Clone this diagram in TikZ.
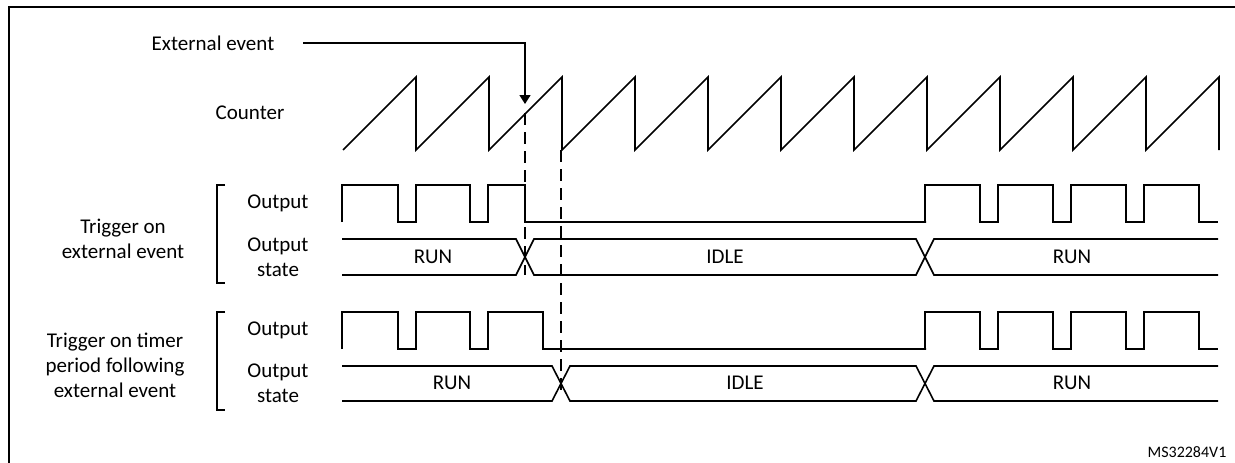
\documentclass[tikz,border=0pt]{standalone}
\usepackage{fontspec}
\setmainfont{Carlito}
\usetikzlibrary{arrows.meta}
\begin{document}
\begin{tikzpicture}[x=1pt,y=-1pt,
  wave/.style={line width=1.6pt,line join=miter},
  lbl/.style={font=\fontsize{21}{25}\selectfont,align=center,inner sep=0pt},
  dashln/.style={line width=1.4pt,dash pattern=on 12pt off 7pt}]
\useasboundingbox (0,0) rectangle (1235,463);
\draw[line width=2.4pt] (9,470) -- (9,7) -- (1240,7);
% labels
\node[lbl] (ext) at (213,43) {External event};
\node[lbl] (cnt) at (250,113) {Counter};
\node[lbl] (o1) at (278,203) {Output};
\node[lbl] (s1) at (278,257) {Output\\state};
\node[lbl] (o2) at (278,330) {Output};
\node[lbl] (s2) at (278,383) {Output\\state};
\node[lbl] (g1) at (123,239) {Trigger on\\external event};
\node[lbl] (g2) at (115,365) {Trigger on timer\\period following\\external event};
\node[font=\fontsize{16}{18}\selectfont,inner sep=0pt] (ms) at (1187,452) {MS32284V1};
\draw[line width=1.5pt] (225,185) -- (217,185) -- (217,283) -- (225,283);
\draw[line width=1.5pt] (225,312) -- (217,312) -- (217,410) -- (225,410);
% counter
\draw[wave] (343,150) foreach \k in {0,...,11} { -- ({416+73*\k},77) -- ({416+73*\k},150) };
% external event arrow
\coordinate (ea) at (525,43);
\coordinate (et) at (525,104);
\draw[line width=1.5pt,-{Triangle[length=9pt,width=11pt]}] (303,43) -- (ea) -- (et);
% dashed
\draw[dashln] (525,113) -- (525,275);
\draw[dashln] (561,150) -- (561,392);
% output 1
\draw[wave] (342,222) -- (342,185) -- (398,185) -- (398,222) -- (416,222) -- (416,185) -- (470,185) -- (470,222) -- (488,222) -- (488,185) -- (525,185) -- (525,222) -- (926,222)
  foreach \p in {998,1071,1144,1217} { -- ({\p-73},222) -- ({\p-73},185) -- ({\p-18},185) -- ({\p-18},222) } -- (1218,222);
% output 2
\draw[wave] (342,349) -- (342,312) -- (398,312) -- (398,349) -- (416,349) -- (416,312) -- (470,312) -- (470,349) -- (488,349) -- (488,312) -- (543,312) -- (543,349) -- (926,349)
  foreach \p in {998,1071,1144,1217} { -- ({\p-73},349) -- ({\p-73},312) -- ({\p-18},312) -- ({\p-18},349) } -- (1218,349);
% state 1
\draw[wave] (342,239) -- (516,239) -- (534,275) -- (916,275) -- (934,239) -- (1218,239);
\draw[wave] (342,275) -- (516,275) -- (534,239) -- (916,239) -- (934,275) -- (1218,275);
\node[lbl] (r1) at (433,257) {RUN};
\node[lbl] (i1) at (725,257) {IDLE};
\node[lbl] (r1b) at (1072,257) {RUN};
% state 2
\draw[wave] (342,366) -- (552,366) -- (570,401) -- (916,401) -- (934,366) -- (1218,366);
\draw[wave] (342,401) -- (552,401) -- (570,366) -- (916,366) -- (934,401) -- (1218,401);
\node[lbl] (r2) at (452,383) {RUN};
\node[lbl] (i2) at (745,383) {IDLE};
\node[lbl] (r2b) at (1072,383) {RUN};
\end{tikzpicture}
\end{document}
